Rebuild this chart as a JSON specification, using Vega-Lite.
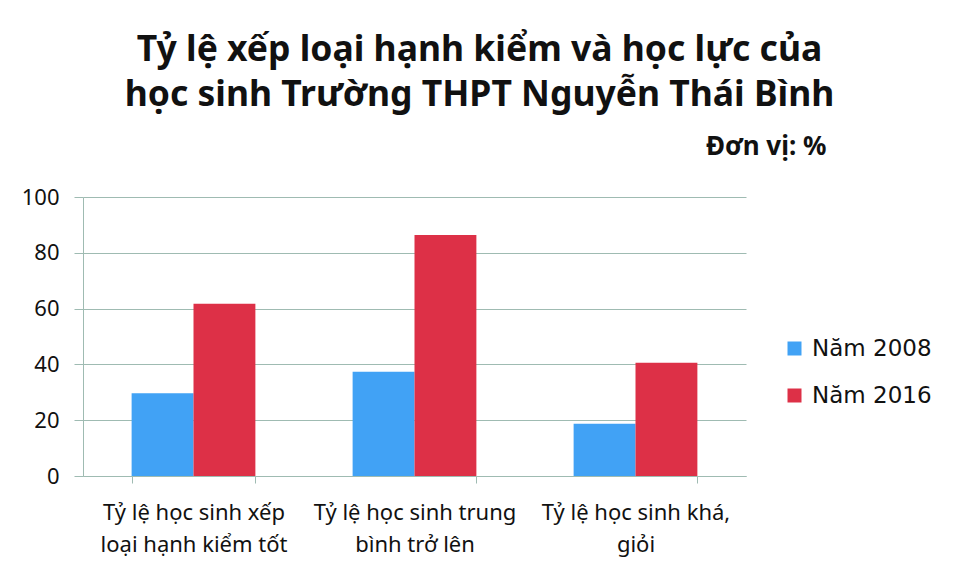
{
  "$schema": "https://vega.github.io/schema/vega-lite/v6.json",
  "width": 663,
  "height": 279,
  "padding": {"left": 21, "top": 32, "right": 5, "bottom": 5},
  "background": "white",
  "title": {
    "text": ["Tỷ lệ xếp loại hạnh kiểm và học lực của", "học sinh Trường THPT Nguyễn Thái Bình"],
    "font": "Noto Sans",
    "fontSize": 35.5,
    "fontWeight": "bold",
    "lineHeight": 45,
    "color": "#111111",
    "anchor": "middle",
    "frame": "group",
    "dx": 65,
    "offset": 20
  },
  "data": {
    "values": [
      {"cat": "Tỷ lệ học sinh xếp\nloại hạnh kiểm tốt", "year": "Năm 2008", "value": 29.7},
      {"cat": "Tỷ lệ học sinh xếp\nloại hạnh kiểm tốt", "year": "Năm 2016", "value": 61.7},
      {"cat": "Tỷ lệ học sinh trung\nbình trở lên", "year": "Năm 2008", "value": 37.4},
      {"cat": "Tỷ lệ học sinh trung\nbình trở lên", "year": "Năm 2016", "value": 86.4},
      {"cat": "Tỷ lệ học sinh khá,\ngiỏi", "year": "Năm 2008", "value": 18.7},
      {"cat": "Tỷ lệ học sinh khá,\ngiỏi", "year": "Năm 2016", "value": 40.6}
    ]
  },
  "mark": {"type": "bar"},
  "encoding": {
    "x": {
      "field": "cat",
      "type": "nominal",
      "sort": null,
      "scale": {"paddingInner": 0.44, "paddingOuter": 0.22},
      "axis": {
        "title": null,
        "labelExpr": "split(datum.label, '\\n')",
        "labelAngle": 0,
        "labelFont": "Noto Sans",
        "labelFontSize": 22,
        "labelLineHeight": 32,
        "labelColor": "#111111",
        "labelPadding": 19,
        "labelLimit": 0,
        "tickBand": "extent",
        "tickSize": 7,
        "tickColor": "#9fbbb2",
        "domainColor": "#9fbbb2",
        "grid": false
      }
    },
    "xOffset": {
      "field": "year",
      "type": "nominal",
      "sort": null,
      "scale": {"paddingInner": 0, "paddingOuter": 0}
    },
    "y": {
      "field": "value",
      "type": "quantitative",
      "scale": {"domain": [0, 100]},
      "axis": {
        "values": [0, 20, 40, 60, 80, 100],
        "title": "Đơn vị: %",
        "titleAngle": 0,
        "titleX": 743,
        "titleY": -43,
        "titleAlign": "right",
        "titleBaseline": "alphabetic",
        "titleFont": "Noto Sans",
        "titleFontSize": 26,
        "titleFontWeight": "bold",
        "titleColor": "#111111",
        "labelFont": "Noto Sans",
        "labelFontSize": 22,
        "labelColor": "#111111",
        "labelPadding": 15,
        "tickSize": 9,
        "tickColor": "#9fbbb2",
        "domainColor": "#9fbbb2",
        "gridColor": "#9fbbb2",
        "gridOpacity": 1
      }
    },
    "color": {
      "field": "year",
      "type": "nominal",
      "scale": {"domain": ["Năm 2008", "Năm 2016"], "range": ["#41a2f5", "#dd3047"]},
      "legend": {
        "title": null,
        "orient": "none",
        "legendX": 700,
        "legendY": 140,
        "symbolType": "square",
        "symbolSize": 196,
        "symbolStrokeWidth": 0,
        "labelFont": "DejaVu Sans",
        "labelFontSize": 23,
        "labelColor": "#111111",
        "labelOffset": 6,
        "rowPadding": 23,
        "padding": 0
      }
    }
  },
  "config": {"view": {"stroke": null}}
}
